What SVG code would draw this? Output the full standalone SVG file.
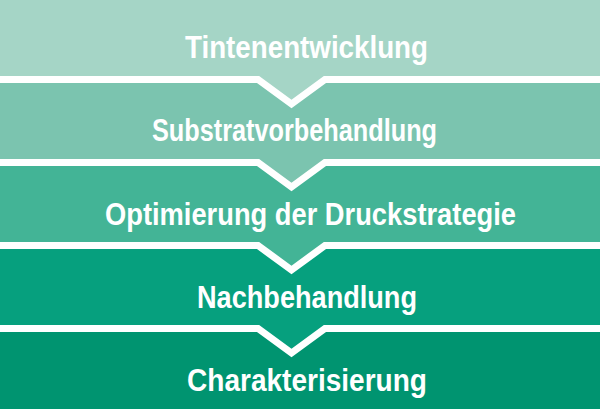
<svg xmlns="http://www.w3.org/2000/svg" width="600" height="409" viewBox="0 0 600 409">
<style>
.lbl{font-family:"Liberation Sans",Arial,sans-serif;font-weight:bold;font-size:32px;fill:#ffffff}
.sep{fill:none;stroke:#ffffff;stroke-width:7;stroke-linejoin:miter}
</style>
<rect x="0" y="0" width="600" height="409" fill="#ffffff"/>
<g id="band5">
<rect x="0" y="320" width="600" height="89" fill="#009470"/>
</g>
<g id="band4">
<polygon points="0,240 600,240 600,328.5 325,328.5 291.5,353 258,328.5 0,328.5" fill="#06a07e"/>
</g>
<g id="band3">
<polygon points="0,160 600,160 600,245.5 325,245.5 291.5,270 258,245.5 0,245.5" fill="#43b496"/>
</g>
<g id="band2">
<polygon points="0,75 600,75 600,162.5 325,162.5 291.5,187 258,162.5 0,162.5" fill="#7bc4af"/>
</g>
<g id="band1">
<polygon points="0,0 600,0 600,79.5 325,79.5 291.5,104 258,79.5 0,79.5" fill="#a5d5c6"/>
</g>
<g id="separators">
<polyline class="sep" points="0,79.5 258,79.5 291.5,104 325,79.5 600,79.5"/>
<polyline class="sep" points="0,162.5 258,162.5 291.5,187 325,162.5 600,162.5"/>
<polyline class="sep" points="0,245.5 258,245.5 291.5,270 325,245.5 600,245.5"/>
<polyline class="sep" points="0,328.5 258,328.5 291.5,353 325,328.5 600,328.5"/>
</g>
<g id="labels">
<text class="lbl" x="185" y="58" textLength="243" lengthAdjust="spacingAndGlyphs">Tintenentwicklung</text>
<text class="lbl" x="152" y="141" textLength="285" lengthAdjust="spacingAndGlyphs">Substratvorbehandlung</text>
<text class="lbl" x="105" y="225" textLength="411" lengthAdjust="spacingAndGlyphs">Optimierung der Druckstrategie</text>
<text class="lbl" x="197" y="308" textLength="220" lengthAdjust="spacingAndGlyphs">Nachbehandlung</text>
<text class="lbl" x="187" y="391" textLength="240" lengthAdjust="spacingAndGlyphs">Charakterisierung</text>
</g>
</svg>
